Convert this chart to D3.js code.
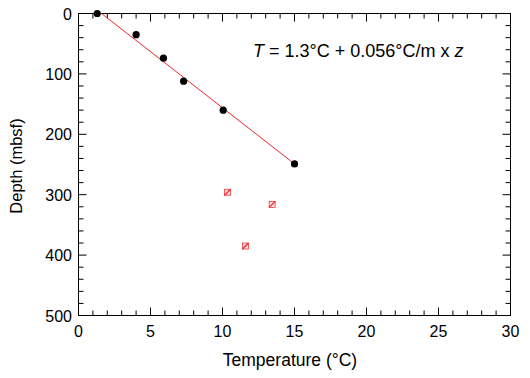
<!DOCTYPE html>
<html>
<head>
<meta charset="utf-8">
<script src="https://cdn.jsdelivr.net/npm/d3@7"></script>
<style>
body { margin: 0; background: #fff; }
text { font-family: "Liberation Sans", Arial, sans-serif; fill: #000; }
</style>
</head>
<body>
<script>
var width = 530;
var height = 378;

// measured points (temperature degC, depth mbsf)
var fitTemp = [1.3, 4.0, 5.9, 7.3, 10.05, 15.0];
var fitDepth = [0, 35, 74, 112, 160, 249];
// rejected points
var otherTemp = [10.35, 13.45, 11.6];
var otherDepth = [296, 316, 385];
// regression line ends
var lineTemp = [1.6, 15.0];
var lineDepth = [0, 249];

var xTicks = [0, 5, 10, 15, 20, 25, 30];
var yTicks = [0, 100, 200, 300, 400, 500];

var margin = {left: 78.5, right: 19.5, top: 13.5, bottom: 62.5};
var x = d3.scaleLinear().domain([0, 30]).range([margin.left, width - margin.right]);
var y = d3.scaleLinear().domain([0, 500]).range([margin.top, height - margin.bottom]);

var svg = d3.select('body').append('svg').attr('width', width).attr('height', height);

// frame
svg.append('rect')
  .attr('x', x(0)).attr('y', y(0))
  .attr('width', x(30) - x(0)).attr('height', y(500) - y(0))
  .attr('fill', 'none').attr('stroke', '#000').attr('stroke-width', 1);

var ticks = svg.append('g').attr('stroke', '#000').attr('stroke-width', 1);
d3.range(0, 31, 1).forEach(function(t) {
  var len = t % 5 === 0 ? 8 : 5;
  ticks.append('line').attr('x1', x(t)).attr('x2', x(t)).attr('y1', y(500)).attr('y2', y(500) - len);
  ticks.append('line').attr('x1', x(t)).attr('x2', x(t)).attr('y1', y(0)).attr('y2', y(0) + len);
});
d3.range(0, 501, 20).forEach(function(d) {
  var len = d % 100 === 0 ? 8 : 5;
  ticks.append('line').attr('y1', y(d)).attr('y2', y(d)).attr('x1', x(0)).attr('x2', x(0) + len);
  ticks.append('line').attr('y1', y(d)).attr('y2', y(d)).attr('x1', x(30)).attr('x2', x(30) - len);
});

svg.selectAll('.xl').data(xTicks).enter().append('text')
  .attr('x', x).attr('y', 336.5).attr('text-anchor', 'middle')
  .style('font-size', '16px').text(String);
svg.selectAll('.yl').data(yTicks).enter().append('text')
  .attr('x', 72).attr('y', function(d) { return y(d) + 6; }).attr('text-anchor', 'end')
  .style('font-size', '16px').text(String);

svg.append('text').attr('x', 290).attr('y', 366).attr('text-anchor', 'middle')
  .style('font-size', '17.5px').text('Temperature (\u00b0C)');
svg.append('text').attr('transform', 'translate(21.5,166) rotate(-90)').attr('text-anchor', 'middle')
  .style('font-size', '16.5px').text('Depth (mbsf)');

var eq = svg.append('text').attr('x', 253).attr('y', 56.5).style('font-size', '18px');
eq.append('tspan').style('font-style', 'italic').text('T');
eq.append('tspan').text(' = 1.3\u00b0C + 0.056\u00b0C/m x ');
eq.append('tspan').style('font-style', 'italic').text('z');

// fit line
svg.append('line')
  .attr('x1', x(lineTemp[0])).attr('y1', y(lineDepth[0]))
  .attr('x2', x(lineTemp[1])).attr('y2', y(lineDepth[1]))
  .attr('stroke', '#e8262a').attr('stroke-width', 1);

svg.selectAll('.pt').data(fitTemp).enter().append('circle')
  .attr('cx', function(d) { return x(d); })
  .attr('cy', function(d, i) { return y(fitDepth[i]); })
  .attr('r', 3.6).attr('fill', '#000');

var s = 3;
var sq = svg.selectAll('.sq').data(otherTemp).enter().append('g')
  .attr('transform', function(d, i) { return 'translate(' + x(d) + ',' + y(otherDepth[i]) + ')'; });
sq.append('rect').attr('x', -s).attr('y', -s).attr('width', 2 * s).attr('height', 2 * s)
  .attr('fill', '#fcdede').attr('stroke', '#f03a3a').attr('stroke-width', 0.8);
sq.append('line').attr('x1', -s).attr('y1', s).attr('x2', s).attr('y2', -s)
  .attr('stroke', '#e8262a').attr('stroke-width', 1.2);
</script>
</body>
</html>
